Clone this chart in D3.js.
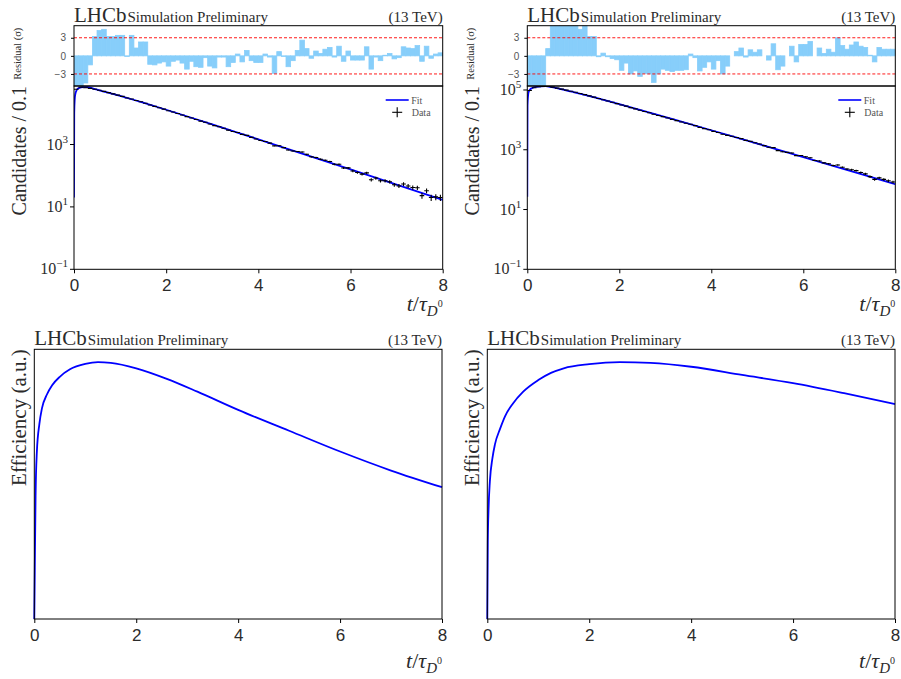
<!DOCTYPE html>
<html>
<head>
<meta charset="utf-8">
<script src="https://cdn.jsdelivr.net/npm/d3@7"></script>
<style>
  body { margin: 0; background: #fff; }
  svg { display: block; font-family: "Liberation Serif", "DejaVu Serif", serif; }
</style>
</head>
<body>
<svg id="fig" width="901" height="679"></svg>
<script>
// ---- data ----
const BIN_WIDTH = 0.1;

// fit curve samples (t/tau, candidates per bin)
const FIT_T = [0, 0.005, 0.015, 0.03, 0.06, 0.1, 0.2, 0.3, 0.4, 0.5, 0.7, 1.0, 1.25, 1.5, 2.0, 2.6, 3.2, 4.0, 5.0, 6.0, 7.0, 8.0];
const FIT_LEFT = [20, 10000, 27000, 42000, 56000, 64000, 69000, 69000, 63000, 57000, 47500, 35950, 28190, 21890, 12990, 6807, 3521, 1467, 486, 158.8, 51.5, 16.9];
const FIT_RIGHT = [27, 30000, 60000, 88000, 104000, 115000, 128000, 133000, 134000, 127000, 109700, 85540, 68620, 54440, 33550, 18580, 10170, 4496, 1600, 568.9, 200.4, 70.2];

// data per 0.1 bin
const DATA_LEFT = [
  59300, 68050, 65940, 62720, 59220, 54900, 50570, 46060, 42000, 38350,
  34880, 31060, 28750, 25680, 23360, 21100, 18520, 16670, 15040, 13570,
  12120, 10960, 9854, 8800, 7804, 7109, 6301, 5629, 5150, 4518,
  4023, 3708, 3322, 2889, 2621, 2416, 2105, 1968, 1694, 1505,
  1346, 1252, 1105, 904, 913, 796, 667, 621, 596, 573,
  485, 403, 383, 336, 313, 285, 232, 233, 176, 178,
  142, 126, 112, 123, 74, 84, 69, 69, 64, 51,
  47, 54, 47, 42, 41, 23, 33, 20, 21, 20
];
const DATA_RIGHT = [
  96520, 119200, 128300, 131300, 130900, 124500, 115800, 107200, 98740, 90960,
  83570, 76150, 70190, 63360, 57780, 51830, 47180, 42700, 38700, 35100,
  31510, 28740, 25740, 23380, 21040, 19110, 17280, 15430, 14090, 12820,
  11560, 10420, 9428, 8504, 7673, 7140, 6401, 5610, 5103, 4662,
  4128, 3800, 3296, 3036, 2824, 2582, 2359, 2063, 1911, 1709,
  1558, 1370, 1210, 1181, 932, 855, 817, 780, 638, 646,
  584, 539, 438, 421, 364, 340, 299, 308, 260, 227,
  215, 201, 174, 156, 126, 102, 115, 102, 92, 83
];

// pulls per bin (sigma)
const RESID_LEFT = [
  -6, -5.5, -4.5, -1.5, 3.2, 4.2, 4.4, 3.2, 3.2, 3.4,
  3.4, -0.1, 3.4, 1.3, 2.3, 2.3, -1.4, -1.5, -1.2, -1.0,
  -1.7, -0.9, -0.7, -1.2, -2.2, -0.9, -1.8, -1.9, -0.3, -1.7,
  -2.0, -0.2, -0.2, -1.8, -1.1, 0.3, -1.0, 0.9, -0.8, -1.1,
  -1.1, 0.3, -0.2, -2.9, 0.7, -0.1, -1.8, -0.8, 0.9, 2.6,
  1.2, -0.4, 0.8, 0.4, 1.1, 1.4, -0.2, 1.6, -0.9, 0.8,
  -0.7, -0.7, -0.7, 1.5, -2.2, -0.2, -0.8, 0.1, 0.4, -0.5,
  -0.3, 1.5, 1.3, 1.2, 1.7, -0.9, 1.6, -0.4, 0.3, 0.5
];
const RESID_RIGHT = [
  -6, -6, -6, -6, 1.2, 6, 6, 6, 6, 6,
  6, 4.4, 6, 3.2, 3.2, -0.15, 0.45, -0.15, -0.45, -0.65,
  -2.4, -1.2, -3.0, -2.5, -3.4, -2.9, -3.0, -4.4, -3.0, -2.2,
  -2.4, -2.6, -2.4, -2.4, -2.3, 0.3, -0.3, -2.5, -1.9, -1.0,
  -2.2, -0.8, -3.0, -1.7, 0, 0.7, 1.3, -0.2, 1.0, 0.6,
  1.0, 0, -0.7, 2.0, -2.3, -1.7, 0, 1.6, -1.0, 1.9,
  1.9, 2.4, 0, 1.3, 0.4, 1.1, 0.6, 3.0, 1.7, 1.1,
  1.8, 2.3, 1.6, 1.4, 0.1, -1.0, 1.4, 1.1, 1.1, 1.1
];

// efficiency curves (arbitrary units, peak = 1)
const EFF_T = [0, 0.01, 0.025, 0.05, 0.1, 0.15, 0.25, 0.35, 0.5, 0.7, 1.0, 1.25, 1.5, 2.0, 2.6, 3.2, 4.0, 5.0, 6.0, 7.0, 8.0];
const EFF_LEFT = [0, 0.2, 0.48, 0.65, 0.76, 0.82, 0.875, 0.91, 0.943, 0.972, 0.993, 1.0, 0.997, 0.976, 0.935, 0.885, 0.814, 0.733, 0.652, 0.578, 0.513];
const EFF_RIGHT = [0, 0.3, 0.43, 0.535, 0.625, 0.68, 0.74, 0.79, 0.838, 0.884, 0.93, 0.958, 0.976, 0.992, 1.0, 0.997, 0.982, 0.95, 0.918, 0.879, 0.837];

const X_TICKS = [0, 2, 4, 6, 8];
const RESID_TICKS = [-3, 0, 3];
const LOG_TICKS = [-1, 1, 3, 5];

// ---- drawing ----
const svg = d3.select("#fig");
const TEXT = "#2b2b2b";
const BLUE = "#0000ff";

function header(x0, x1, base) {
  const t = svg.append("text").attr("x", x0).attr("y", base).attr("fill", TEXT);
  t.append("tspan").attr("font-size", 21).text("LHCb");
  t.append("tspan").attr("font-size", 15).attr("dx", 1).text("Simulation Preliminary");
  svg.append("text").attr("x", x1).attr("y", base).attr("text-anchor", "end")
    .attr("font-size", 15).attr("fill", TEXT).text("(13 TeV)");
}

function xLabel(x1, base) {
  const t = svg.append("text").attr("x", x1).attr("y", base).attr("text-anchor", "end")
    .attr("fill", TEXT).attr("font-size", 22);
  t.append("tspan").attr("font-style", "italic").text("t");
  t.append("tspan").text("/");
  t.append("tspan").attr("font-style", "italic").text("τ");
  t.append("tspan").attr("font-style", "italic").attr("font-size", 15).attr("dy", 5).text("D");
  t.append("tspan").attr("font-size", 10).attr("dy", -9).text("0");
}

function yLabel(x, yEnd, size, txt) {
  svg.append("text")
    .attr("transform", `translate(${x},${yEnd}) rotate(-90)`)
    .attr("text-anchor", "end").attr("font-size", size).attr("fill", TEXT).text(txt);
}

function xAxis(x, yPos) {
  const g = svg.append("g").attr("transform", `translate(0,${yPos})`)
    .call(d3.axisBottom(x).tickValues(X_TICKS).tickSize(4).tickSizeOuter(0).tickPadding(6)
      .tickFormat(d3.format("d")));
  g.select(".domain").remove();
  g.selectAll("text").attr("font-size", 17).attr("fill", TEXT).attr("font-family", null);
  g.selectAll("line").attr("stroke", "#000");
}

function frame(x0, x1, y0, y1) {
  svg.append("rect").attr("x", x0).attr("y", y0).attr("width", x1 - x0).attr("height", y1 - y0)
    .attr("fill", "none").attr("stroke", "#000").attr("stroke-width", 1);
}

const topPanels = [
  { x0: 74, x1: 442.7, yMax: 7.5e4, fit: FIT_LEFT, data: DATA_LEFT, resid: RESID_LEFT, id: "L" },
  { x0: 527.3, x1: 895.3, yMax: 1.36e5, fit: FIT_RIGHT, data: DATA_RIGHT, resid: RESID_RIGHT, id: "R" }
];
const RES_TOP = 25.7, MAIN_TOP = 86, MAIN_BOTTOM = 269.3;

topPanels.forEach(p => {
  const x = d3.scaleLinear().domain([0, 8]).range([p.x0, p.x1]);
  const yr = d3.scaleLinear().domain([-5, 5]).range([MAIN_TOP, RES_TOP]);
  const y = d3.scaleLog().domain([0.1, p.yMax]).range([MAIN_BOTTOM, MAIN_TOP]);

  // clip paths
  const defs = svg.append("defs");
  defs.append("clipPath").attr("id", "res" + p.id).append("rect")
    .attr("x", p.x0).attr("y", RES_TOP).attr("width", p.x1 - p.x0).attr("height", MAIN_TOP - RES_TOP);
  defs.append("clipPath").attr("id", "main" + p.id).append("rect")
    .attr("x", p.x0).attr("y", MAIN_TOP).attr("width", p.x1 - p.x0).attr("height", MAIN_BOTTOM - MAIN_TOP);

  // residual bars
  const rg = svg.append("g").attr("clip-path", `url(#res${p.id})`);
  rg.selectAll("rect").data(p.resid).join("rect")
    .attr("x", (d, i) => x(i * BIN_WIDTH))
    .attr("width", x(BIN_WIDTH) - x(0))
    .attr("y", d => Math.min(yr(d), yr(0)))
    .attr("height", d => Math.abs(yr(d) - yr(0)))
    .attr("fill", "#87cefa").attr("stroke", "#87cefa").attr("stroke-width", 0.8);
  RESID_TICKS.filter(v => v !== 0).forEach(v => {
    svg.append("line").attr("x1", p.x0).attr("x2", p.x1).attr("y1", yr(v)).attr("y2", yr(v))
      .attr("stroke", "#ff0000").attr("stroke-width", 0.9).attr("stroke-dasharray", "3,2");
  });
  const ra = svg.append("g").attr("transform", `translate(${p.x0},0)`)
    .call(d3.axisLeft(yr).tickValues(RESID_TICKS).tickSize(3).tickPadding(5)
      .tickFormat(d => d < 0 ? "−" + Math.abs(d) : d));
  ra.select(".domain").remove();
  ra.selectAll("text").attr("font-size", 10).attr("fill", "#555").attr("font-family", null);

  // main panel: fit line + data
  const mg = svg.append("g").attr("clip-path", `url(#main${p.id})`);
  const line = d3.line().x((d, i) => x(FIT_T[i])).y(d => y(d)).curve(d3.curveMonotoneX);
  mg.append("path").datum(p.fit).attr("d", line)
    .attr("fill", "none").attr("stroke", BLUE).attr("stroke-width", 1.8);
  const pts = mg.selectAll("g.pt").data(p.data).join("g").attr("class", "pt");
  pts.append("line")
    .attr("x1", (d, i) => x(i * BIN_WIDTH)).attr("x2", (d, i) => x((i + 1) * BIN_WIDTH))
    .attr("y1", d => y(d)).attr("y2", d => y(d));
  pts.append("line")
    .attr("x1", (d, i) => x((i + 0.5) * BIN_WIDTH)).attr("x2", (d, i) => x((i + 0.5) * BIN_WIDTH))
    .attr("y1", d => y(d - Math.sqrt(d))).attr("y2", d => y(d + Math.sqrt(d)));
  pts.selectAll("line").attr("stroke", "#000").attr("stroke-width", 1.1);

  // log axis
  const ticks = LOG_TICKS.filter(e => Math.pow(10, e) <= p.yMax * 1.0001);
  const ya = svg.append("g").attr("transform", `translate(${p.x0},0)`);
  ticks.forEach(e => {
    const yy = y(Math.pow(10, e));
    ya.append("line").attr("x1", -4).attr("x2", 0).attr("y1", yy).attr("y2", yy).attr("stroke", "#000");
    const t = ya.append("text").attr("x", -6).attr("y", yy + 5).attr("text-anchor", "end")
      .attr("fill", TEXT).attr("font-size", 16);
    t.append("tspan").text("10");
    t.append("tspan").attr("font-size", 11).attr("dy", -7).text(e < 0 ? "−" + Math.abs(e) : e);
  });

  xAxis(x, MAIN_BOTTOM);
  frame(p.x0, p.x1, RES_TOP, MAIN_TOP);
  frame(p.x0, p.x1, MAIN_TOP, MAIN_BOTTOM);

  // legend
  const lx = p.x1 - 57;
  svg.append("line").attr("x1", lx).attr("x2", lx + 23).attr("y1", 100).attr("y2", 100)
    .attr("stroke", BLUE).attr("stroke-width", 1.6);
  svg.append("text").attr("x", lx + 25.5).attr("y", 103.5).attr("font-size", 10).attr("fill", "#555").text("Fit");
  svg.append("line").attr("x1", lx + 6.5).attr("x2", lx + 16.5).attr("y1", 112.3).attr("y2", 112.3).attr("stroke", "#000").attr("stroke-width", 1.1);
  svg.append("line").attr("x1", lx + 11.5).attr("x2", lx + 11.5).attr("y1", 107.3).attr("y2", 117.3).attr("stroke", "#000").attr("stroke-width", 1.1);
  svg.append("text").attr("x", lx + 26).attr("y", 115.5).attr("font-size", 10).attr("fill", "#555").text("Data");

  header(p.x0, p.x1, 21.7);
  xLabel(p.x1, 311);
  yLabel(p.x0 - 48, MAIN_TOP, 20, "Candidates / 0.1");
  yLabel(p.x0 - 53, RES_TOP + 2, 10.5, "Residual (σ)");
});

// bottom panels: efficiency
const botPanels = [
  { x0: 34.3, x1: 442, eff: EFF_LEFT },
  { x0: 487.3, x1: 895, eff: EFF_RIGHT }
];
const B_TOP = 349.3, B_BOTTOM = 619;
botPanels.forEach(p => {
  const x = d3.scaleLinear().domain([0, 8]).range([p.x0, p.x1]);
  const y = d3.scaleLinear().domain([0, 1.05]).range([B_BOTTOM, B_TOP]);
  svg.append("path").datum(p.eff)
    .attr("d", d3.line().x((d, i) => x(EFF_T[i])).y(d => y(d)).curve(d3.curveMonotoneX))
    .attr("fill", "none").attr("stroke", BLUE).attr("stroke-width", 1.8);
  xAxis(x, B_BOTTOM);
  frame(p.x0, p.x1, B_TOP, B_BOTTOM);
  header(p.x0, p.x1, 345);
  xLabel(p.x1, 668);
  yLabel(p.x0 - 8, B_TOP, 21, "Efficiency (a.u.)");
});
</script>
</body>
</html>
